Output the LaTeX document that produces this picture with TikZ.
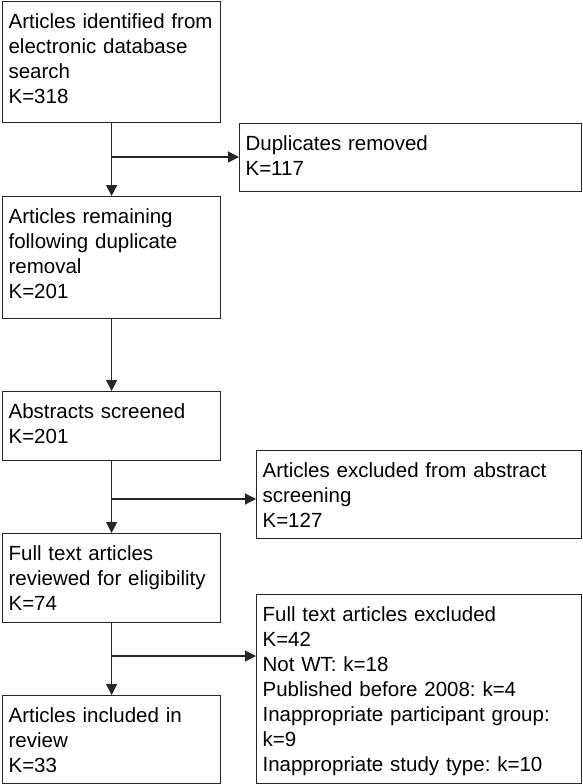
\documentclass[tikz,border=0pt]{standalone}
\usepackage{fontspec}
\setmainfont{Liberation Sans}
\frenchspacing
\usetikzlibrary{arrows.meta}
\tikzset{
  stage/.style={draw=black!85, line width=1.2pt, anchor=north west, align=left,
    inner xsep=6pt, inner ysep=0pt, text height=26.5pt,
    font=\fontsize{20.5}{25}\selectfont},
  flow/.style={draw=black!85, line width=1.2pt, -{Triangle[length=11pt,width=11pt]}}
}
\begin{document}
\begin{tikzpicture}[x=1pt,y=-1pt]
  \useasboundingbox (0,0) rectangle (582,784);
  % Boxes on the left
  \node[stage, text width=206pt, text depth=94.5pt] (ident) at (2,1)
    {Articles identified from\\electronic database\\search\\K=318};
  \node[stage, text width=206pt, text depth=95.5pt] (remain) at (2,196)
    {Articles remaining\\following duplicate\\removal\\K=201};
  \node[stage, text width=206pt, text depth=42.5pt] (abstr) at (2,391)
    {Abstracts screened\\K=201};
  \node[stage, text width=206pt, text depth=62.5pt] (full) at (2,533)
    {Full text articles\\reviewed for eligibility\\K=74};
  \node[stage, text width=206pt, text depth=61.5pt] (incl) at (2,695)
    {Articles included in\\review\\K=33};
  % Boxes on the right
  \node[stage, text width=330pt, text depth=41.5pt] (dupl) at (239,123)
    {Duplicates removed\\K=117};
  \node[stage, text width=313pt, text depth=61.5pt] (exabs) at (256,450)
    {Articles excluded from abstract\\screening\\K=127};
  \node[stage, text width=313pt, text depth=162.5pt] (exfull) at (256,594)
    {Full text articles excluded\\K=42\\Not WT: k=18\\Published before 2008: k=4\\Inappropriate participant group:\\k=9\\Inappropriate study type: k=10};
  % Branch points
  \coordinate (j1) at (111,157);
  \coordinate (j2) at (111,499);
  \coordinate (j3) at (111,656);
  % Arrows
  \draw[flow] (ident.south) -- (remain.north);
  \draw[flow] (remain.south) -- (abstr.north);
  \draw[flow] (abstr.south) -- (full.north);
  \draw[flow] (full.south) -- (incl.north);
  \draw[flow] (j1) -- (j1 -| dupl.west);
  \draw[flow] (j2) -- (j2 -| exabs.west);
  \draw[flow] (j3) -- (j3 -| exfull.west);
\end{tikzpicture}
\end{document}
